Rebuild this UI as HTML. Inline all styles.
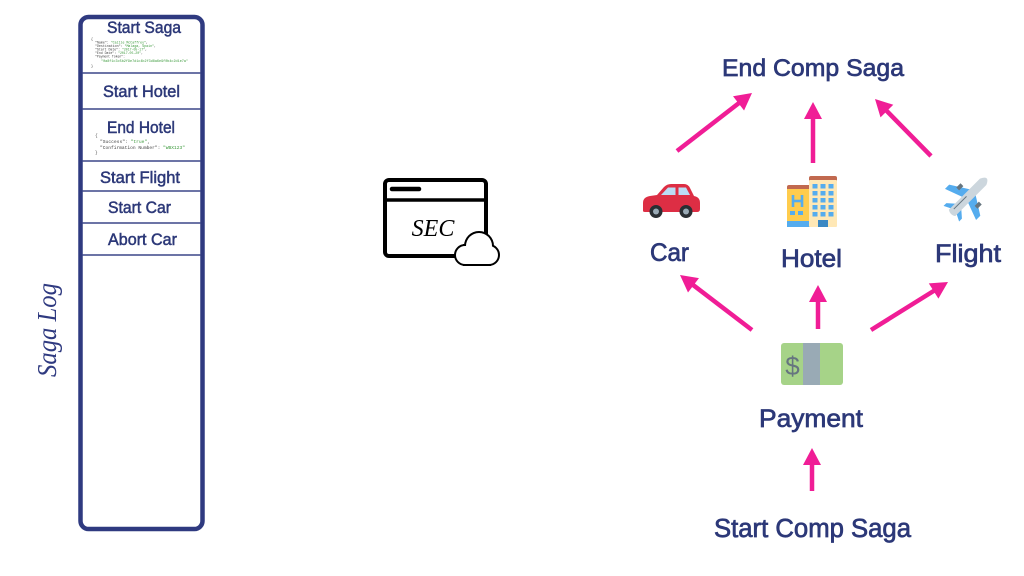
<!DOCTYPE html>
<html>
<head>
<meta charset="utf-8">
<style>
  html, body { margin:0; padding:0; background:#ffffff; }
  body { width:1024px; height:576px; overflow:hidden; }
  svg { display:block; }
  .lbl { font-family:"Liberation Sans", sans-serif; fill:#2c3878; stroke:#2c3878; stroke-width:0.5; }
  .big { font-family:"Liberation Sans", sans-serif; fill:#2c3878; stroke:#2c3878; stroke-width:0.7; }
  .mono { font-family:"Liberation Mono", monospace; }
</style>
</head>
<body>
<svg width="1024" height="576" viewBox="0 0 1024 576" xmlns="http://www.w3.org/2000/svg">
  <!-- Saga Log box -->
  <rect x="80.5" y="17" width="122" height="512" rx="8" ry="8" fill="#ffffff" stroke="#2f3a80" stroke-width="4.5"/>
  <g stroke="#3b4688" stroke-width="1.5">
    <line x1="82" y1="73" x2="201" y2="73"/>
    <line x1="82" y1="109" x2="201" y2="109"/>
    <line x1="82" y1="161" x2="201" y2="161"/>
    <line x1="82" y1="191" x2="201" y2="191"/>
    <line x1="82" y1="223" x2="201" y2="223"/>
    <line x1="82" y1="255" x2="201" y2="255"/>
  </g>

  <text class="lbl" x="107" y="33" font-size="17" textLength="74" lengthAdjust="spacingAndGlyphs">Start Saga</text>
  <text class="lbl" x="103" y="97" font-size="16.5" textLength="77" lengthAdjust="spacingAndGlyphs">Start Hotel</text>
  <text class="lbl" x="107" y="133" font-size="16.5" textLength="68" lengthAdjust="spacingAndGlyphs">End Hotel</text>
  <text class="lbl" x="100" y="183" font-size="16.5" textLength="80" lengthAdjust="spacingAndGlyphs">Start Flight</text>
  <text class="lbl" x="108" y="213" font-size="16.5" textLength="63" lengthAdjust="spacingAndGlyphs">Start Car</text>
  <text class="lbl" x="108" y="245" font-size="16.5" textLength="69" lengthAdjust="spacingAndGlyphs">Abort Car</text>

  <!-- Start Saga JSON -->
  <g class="mono" font-size="3.4" fill="#444">
    <text x="91" y="40">{</text>
    <text x="95" y="43.5" textLength="53" lengthAdjust="spacingAndGlyphs">"Name": <tspan fill="#3c9a3c">"Caitie McCaffrey"</tspan>,</text>
    <text x="95" y="47" textLength="61" lengthAdjust="spacingAndGlyphs">"Destination": <tspan fill="#3c9a3c">"Malaga, Spain"</tspan>,</text>
    <text x="95" y="50.5" textLength="52" lengthAdjust="spacingAndGlyphs">"Start Date": <tspan fill="#3c9a3c">"2017-05-17"</tspan>,</text>
    <text x="95" y="54" textLength="48" lengthAdjust="spacingAndGlyphs">"End Date": <tspan fill="#3c9a3c">"2017-05-20"</tspan>,</text>
    <text x="95" y="57.5" textLength="30" lengthAdjust="spacingAndGlyphs">"Payment Token":</text>
    <text x="101" y="62" fill="#3c9a3c" textLength="87" lengthAdjust="spacingAndGlyphs">"0a8f1c3c5b2f9e7d1c4b2f3d8a6e9f0b4c2d1e7a"</text>
    <text x="91" y="67">}</text>
  </g>

  <!-- End Hotel JSON -->
  <g class="mono" font-size="4.4" fill="#444">
    <text x="95" y="137">{</text>
    <text x="100" y="143" textLength="50" lengthAdjust="spacingAndGlyphs">"Success": <tspan fill="#3c9a3c">"true"</tspan>,</text>
    <text x="100" y="149" textLength="85" lengthAdjust="spacingAndGlyphs">"Confirmation Number": <tspan fill="#3c9a3c">"WBX123"</tspan></text>
    <text x="95" y="154">}</text>
  </g>

  <!-- Saga Log vertical label -->
  <text x="0" y="0" transform="translate(56,377) rotate(-90)" font-family="'Liberation Serif', serif" font-style="italic" font-size="27" fill="#2f3a80" textLength="94" lengthAdjust="spacingAndGlyphs">Saga Log</text>

  <!-- SEC icon -->
  <rect x="385" y="180" width="101" height="76" rx="4" ry="4" fill="#ffffff" stroke="#000" stroke-width="4"/>
  <line x1="385" y1="200" x2="486" y2="200" stroke="#000" stroke-width="3.5"/>
  <line x1="392" y1="189" x2="419" y2="189" stroke="#000" stroke-width="4.5" stroke-linecap="round"/>
  <text x="433" y="236" text-anchor="middle" font-family="'Liberation Serif', serif" font-style="italic" font-size="24" fill="#000">SEC</text>
  <g fill="#ffffff" stroke="#000" stroke-width="4">
    <circle cx="479" cy="246" r="13"/>
    <circle cx="465" cy="255" r="9"/>
    <circle cx="489" cy="255" r="9"/>
    <rect x="465" y="246" width="24" height="18"/>
  </g>
  <g fill="#ffffff">
    <circle cx="479" cy="246" r="13"/>
    <circle cx="465" cy="255" r="9"/>
    <circle cx="489" cy="255" r="9"/>
    <rect x="465" y="246" width="24" height="18"/>
  </g>

  <!-- Right side labels -->
  <text class="big" x="722" y="76" font-size="24.5" textLength="182" lengthAdjust="spacingAndGlyphs">End Comp Saga</text>
  <text class="big" x="650" y="261" font-size="25" textLength="39" lengthAdjust="spacingAndGlyphs">Car</text>
  <text class="big" x="781" y="267" font-size="25" textLength="61" lengthAdjust="spacingAndGlyphs">Hotel</text>
  <text class="big" x="935" y="262" font-size="25" textLength="66" lengthAdjust="spacingAndGlyphs">Flight</text>
  <text class="big" x="759" y="427" font-size="25" textLength="104" lengthAdjust="spacingAndGlyphs">Payment</text>
  <text class="big" x="714" y="537" font-size="25.5" textLength="197" lengthAdjust="spacingAndGlyphs">Start Comp Saga</text>

  <!-- Arrows -->
  <g stroke="#f01d96" stroke-width="4.5" fill="none">
    <line x1="677" y1="151" x2="739.5" y2="102.6"/>
    <line x1="813" y1="163" x2="813" y2="118"/>
    <line x1="931" y1="156" x2="886" y2="110.2"/>
    <line x1="752" y1="330" x2="692.7" y2="284.7"/>
    <line x1="818" y1="329" x2="818" y2="301"/>
    <line x1="871" y1="330" x2="934.4" y2="290.5"/>
    <line x1="812" y1="491" x2="812" y2="464"/>
  </g>
  <g fill="#f01d96">
    <polygon points="752,93 744.06,110.5 733.04,96.3"/>
    <polygon points="813,102 804,119 822,119"/>
    <polygon points="875,99 893.3,104.8 880.5,117.4"/>
    <polygon points="680,275 698.96,278.1 688,292.5"/>
    <polygon points="818,285 809,302 827,302"/>
    <polygon points="948,282 938.4,298.6 928.8,283.4"/>
    <polygon points="812,448 803,465 821,465"/>
  </g>

  <!-- Car emoji -->
  <g>
    <path d="M643,211 L643,203 Q643,197 650,196 L657,195 L664,187 Q667,184 671,184 L684,184 Q688,184 690,188 L694,196 Q700,197 700,203 L700,209 Q700,212 697,212 L646,212 Q643,212 643,211 Z" fill="#dd2e44"/>
    <polygon points="661,195 668,187.5 675.5,187.5 675.5,195" fill="#bbddf5"/>
    <polygon points="678.5,187.5 686,187.5 690,195 678.5,195" fill="#bbddf5"/>
    <circle cx="656" cy="211.5" r="6.5" fill="#292f33"/>
    <circle cx="656" cy="211.5" r="3" fill="#99aab5"/>
    <circle cx="686" cy="211.5" r="6.5" fill="#292f33"/>
    <circle cx="686" cy="211.5" r="3" fill="#99aab5"/>
  </g>

  <!-- Hotel emoji -->
  <g>
    <rect x="787" y="185" width="24" height="6" rx="2" fill="#c1694f"/>
    <rect x="787" y="189" width="24" height="38" fill="#ffcc4d"/>
    <g stroke="#55acee" stroke-width="2.6" fill="none">
      <line x1="793" y1="195" x2="793" y2="207"/>
      <line x1="802" y1="195" x2="802" y2="207"/>
      <line x1="793" y1="201" x2="802" y2="201"/>
    </g>
    <rect x="790" y="211" width="5" height="4" fill="#55acee"/>
    <rect x="798" y="211" width="5" height="4" fill="#55acee"/>
    <rect x="787" y="221" width="23" height="6" fill="#55acee"/>
    <rect x="809" y="176" width="28" height="6" rx="2" fill="#c1694f"/>
    <rect x="809" y="180" width="28" height="47" rx="1" fill="#ffe8b6"/>
    <g fill="#55acee">
      <rect x="812.5" y="184" width="5" height="4.5"/><rect x="820.5" y="184" width="5" height="4.5"/><rect x="828.5" y="184" width="5" height="4.5"/>
      <rect x="812.5" y="191" width="5" height="4.5"/><rect x="820.5" y="191" width="5" height="4.5"/><rect x="828.5" y="191" width="5" height="4.5"/>
      <rect x="812.5" y="198" width="5" height="4.5"/><rect x="820.5" y="198" width="5" height="4.5"/><rect x="828.5" y="198" width="5" height="4.5"/>
      <rect x="812.5" y="205" width="5" height="4.5"/><rect x="820.5" y="205" width="5" height="4.5"/><rect x="828.5" y="205" width="5" height="4.5"/>
      <rect x="812.5" y="212" width="5" height="4.5"/><rect x="820.5" y="212" width="5" height="4.5"/><rect x="828.5" y="212" width="5" height="4.5"/>
    </g>
    <rect x="818" y="220" width="10" height="7" fill="#3b88c3"/>
  </g>

  <!-- Airplane emoji -->
  <g transform="translate(969,196) rotate(45)">
    <polygon points="-3,-6 -22,6 -22,12 -3,5" fill="#55acee"/>
    <polygon points="3,-6 22,6 22,12 3,5" fill="#55acee"/>
    <polygon points="-3,14 -11,21 -11,25 -3,21" fill="#55acee"/>
    <polygon points="3,14 11,21 11,25 3,21" fill="#55acee"/>
    <rect x="-15" y="-3" width="4" height="6" fill="#66757f"/>
    <rect x="11" y="-3" width="4" height="6" fill="#66757f"/>
    <path d="M-4.5,24 L-4.5,-20 Q0,-30 4.5,-20 L4.5,24 Q0,27 -4.5,24 Z" fill="#ccd6dd"/>
    <line x1="-1.5" y1="2" x2="-1.5" y2="20" stroke="#66757f" stroke-width="1"/>
  </g>

  <!-- Money emoji -->
  <g>
    <rect x="781" y="343" width="62" height="42" rx="3" fill="#a6d388"/>
    <rect x="803" y="343" width="17" height="42" fill="#99aab5"/>
    <text x="792.5" y="375" text-anchor="middle" font-family="'Liberation Sans', sans-serif" font-size="26" fill="#66757f">$</text>
  </g>
</svg>
</body>
</html>
